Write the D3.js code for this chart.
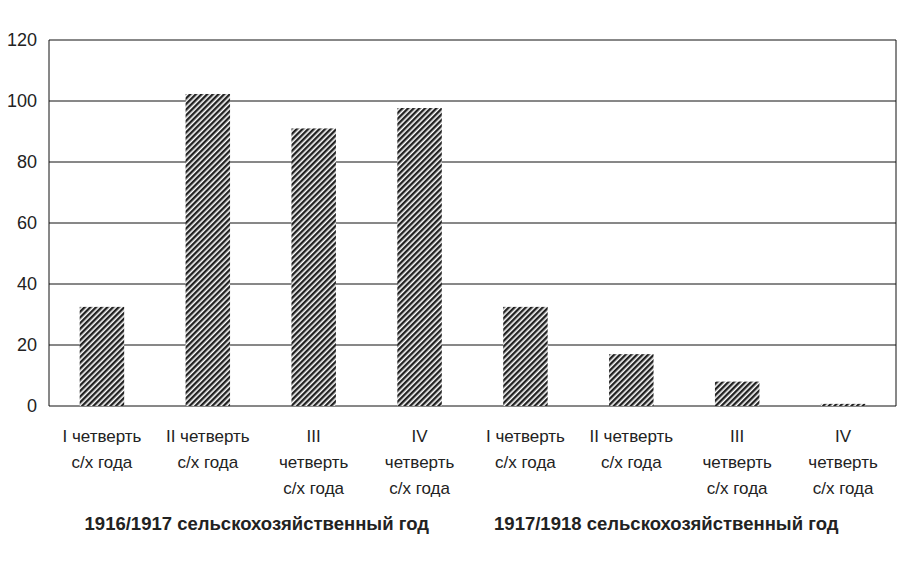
<!DOCTYPE html>
<html><head><meta charset="utf-8">
<script src="https://cdn.jsdelivr.net/npm/d3@7"></script>
<style>body{margin:0;background:#fff}</style>
</head><body>
<script>
const categories = [
  ["I четверть", "с/х года"], ["II четверть", "с/х года"], ["III", "четверть", "с/х года"], ["IV", "четверть", "с/х года"],
  ["I четверть", "с/х года"], ["II четверть", "с/х года"], ["III", "четверть", "с/х года"], ["IV", "четверть", "с/х года"]
];
const values = [32.5, 102.3, 91, 97.7, 32.5, 17, 8, 0.7];
const yTicks = [0, 20, 40, 60, 80, 100, 120];
const groups = ["1916/1917 сельскохозяйственный год", "1917/1918 сельскохозяйственный год"];

const W = 917, H = 561, m = {l: 49, r: 21, t: 40, b: 155};
const svg = d3.select("body").append("svg").attr("width", W).attr("height", H);

// hatch pattern
const pat = svg.append("defs").append("pattern").attr("id", "hatch")
  .attr("patternUnits", "userSpaceOnUse").attr("width", 4).attr("height", 4)
  .attr("patternTransform", "rotate(45)");
pat.append("rect").attr("width", 4).attr("height", 4).attr("fill", "#fff");
pat.append("rect").attr("width", 2.4).attr("height", 4).attr("fill", "#222");

const x = d3.scaleBand().domain(d3.range(8)).range([m.l, W - m.r]).paddingInner(0.58).paddingOuter(0.29);
const y = d3.scaleLinear().domain([0, 120]).range([H - m.b, m.t]);

// gridlines
svg.selectAll(".grid").data(yTicks).enter().append("line")
  .attr("x1", m.l).attr("x2", W - m.r).attr("y1", d => y(d)).attr("y2", d => y(d))
  .attr("stroke", "#111").attr("stroke-width", 1);
svg.append("line").attr("x1", m.l).attr("x2", m.l).attr("y1", m.t).attr("y2", y(0)).attr("stroke", "#111");
svg.append("line").attr("x1", W - m.r).attr("x2", W - m.r).attr("y1", m.t).attr("y2", y(0)).attr("stroke", "#111");

svg.append("g").attr("transform", `translate(${m.l},0)`)
  .call(d3.axisLeft(y).tickValues(yTicks).tickSize(0).tickPadding(12))
  .call(g => g.select(".domain").remove())
  .selectAll("text").attr("font-family", "Liberation Sans, Arial").attr("font-size", 18).attr("fill", "#222");

svg.selectAll(".bar").data(values).enter().append("rect")
  .attr("x", (d, i) => x(i)).attr("width", x.bandwidth())
  .attr("y", d => y(d)).attr("height", d => y(0) - y(d))
  .attr("fill", "url(#hatch)");

svg.selectAll(".cat").data(categories).enter().append("text")
  .attr("text-anchor", "middle").attr("font-family", "Liberation Sans, Arial").attr("font-size", 17).attr("fill", "#222")
  .attr("transform", (d, i) => `translate(${x(i) + x.bandwidth() / 2},442)`)
  .selectAll("tspan").data(d => d).enter().append("tspan")
  .attr("x", 0).attr("dy", (d, j) => j ? 26 : 0).text(d => d);

svg.selectAll(".grp").data(groups).enter().append("text")
  .attr("text-anchor", "middle").attr("font-family", "Liberation Sans, Arial").attr("font-weight", "bold")
  .attr("font-size", 18.5).attr("fill", "#222")
  .attr("x", (d, i) => (x(i * 4) + x(i * 4 + 3) + x.bandwidth()) / 2 - (i ? 18 : 4)).attr("y", 530)
  .text(d => d);
</script>
</body></html>
